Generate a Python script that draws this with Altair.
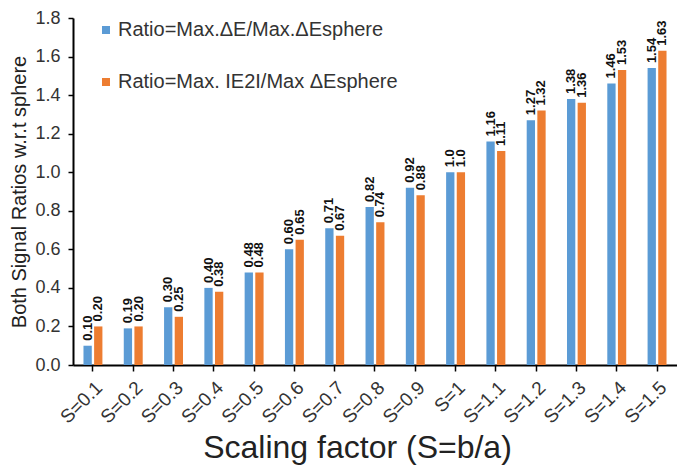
import altair as alt
import pandas as pd

categories = ["S=0.1", "S=0.2", "S=0.3", "S=0.4", "S=0.5", "S=0.6", "S=0.7", "S=0.8",
              "S=0.9", "S=1", "S=1.1", "S=1.2", "S=1.3", "S=1.4", "S=1.5"]
series_names = ["Ratio=Max.\u0394E/Max.\u0394Esphere", "Ratio=Max. IE2I/Max \u0394Esphere"]
blue_values = [0.10, 0.19, 0.30, 0.40, 0.48, 0.60, 0.71, 0.82, 0.92, 1.0, 1.16, 1.27, 1.38, 1.46, 1.54]
orange_values = [0.20, 0.20, 0.25, 0.38, 0.48, 0.65, 0.67, 0.74, 0.88, 1.0, 1.11, 1.32, 1.36, 1.53, 1.63]
blue_labels = ["0.10", "0.19", "0.30", "0.40", "0.48", "0.60", "0.71", "0.82", "0.92", "1.0",
               "1.16", "1.27", "1.38", "1.46", "1.54"]
orange_labels = ["0.20", "0.20", "0.25", "0.38", "0.48", "0.65", "0.67", "0.74", "0.88", "1.0",
                 "1.11", "1.32", "1.36", "1.53", "1.63"]
y_ticks = [0, 0.2, 0.4, 0.6, 0.8, 1.0, 1.2, 1.4, 1.6, 1.8]
colors = ["#5B9BD5", "#ED7D31"]

rows = []
for i, c in enumerate(categories):
    rows.append({"cat": c, "series": series_names[0], "value": blue_values[i], "label": blue_labels[i]})
    rows.append({"cat": c, "series": series_names[1], "value": orange_values[i], "label": orange_labels[i]})
df = pd.DataFrame(rows)

FONT = "Liberation Sans"

x_enc = alt.X("cat:N", sort=categories,
              scale=alt.Scale(paddingInner=0.53, paddingOuter=0.26),
              axis=alt.Axis(title="Scaling factor (S=b/a)", labelAngle=-45, labelFontSize=19,
                            labelColor="#333333", titleFontSize=32, titleFontWeight="normal",
                            titleColor="#222222", titleX=284, titleY=92,
                            titleBaseline="alphabetic", titleAlign="center",
                            domainColor="black", domainWidth=2, tickColor="black",
                            tickWidth=1.5, tickSize=6, labelPadding=7, labelOverlap=False))
xoff_enc = alt.XOffset("series:N", sort=series_names,
                       scale=alt.Scale(paddingInner=0.22, paddingOuter=0))
y_enc = alt.Y("value:Q",
              scale=alt.Scale(domain=[0, 1.8], nice=False),
              axis=alt.Axis(title="Both Signal Ratios w.r.t sphere", values=y_ticks,
                            format=".1f", labelFontSize=18, labelColor="#333333",
                            titleFontSize=20, titleFontWeight="normal", titleColor="#222222",
                            titlePadding=5, domainColor="black", domainWidth=2,
                            tickColor="black", tickWidth=1.5, tickSize=5, grid=False,
                            labelPadding=8, labelOverlap=False, labelFlush=False))

bars = alt.Chart(df).mark_bar().encode(
    x=x_enc,
    xOffset=xoff_enc,
    y=y_enc,
    color=alt.Color("series:N", sort=series_names,
                    scale=alt.Scale(domain=series_names, range=colors),
                    legend=alt.Legend(title=None, orient="none", legendX=23, legendY=2,
                                      symbolType="square", symbolSize=64, symbolStrokeWidth=0,
                                      labelFontSize=20, labelColor="#333333", rowPadding=32,
                                      labelLimit=400, labelOffset=2)),
)

texts = alt.Chart(df).mark_text(angle=270, align="left", baseline="middle", dx=5,
                                fontWeight="bold", fontSize=13, font=FONT, color="#111111").encode(
    x=x_enc,
    xOffset=xoff_enc,
    y=y_enc,
    text="label:N",
)

chart = alt.layer(bars, texts).properties(
    width=604, height=347,
    autosize=alt.AutoSizeParams(type="none"),
    padding={"left": 65, "top": 10, "right": 0, "bottom": 100},
).configure(
    font=FONT
).configure_view(stroke=None)

chart.save("out.html", embed_options={"renderer": "svg", "actions": False})
